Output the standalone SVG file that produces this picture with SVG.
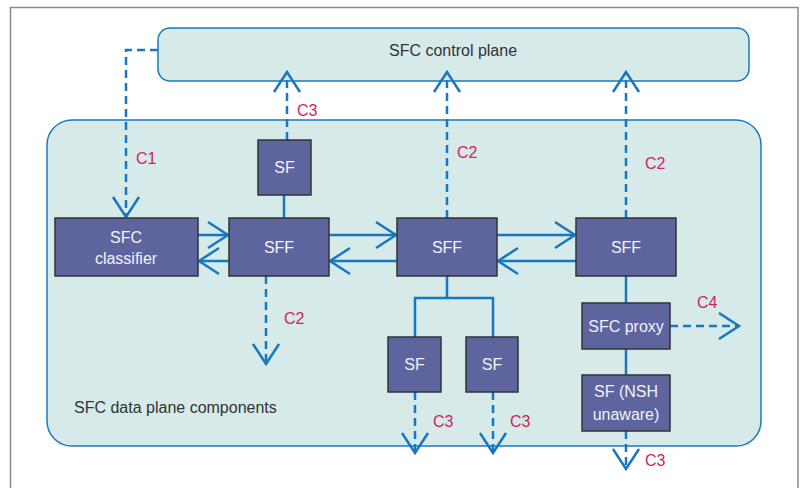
<svg xmlns="http://www.w3.org/2000/svg" width="800" height="488" viewBox="0 0 800 488">
<defs>
<style>
.frame{fill:#fff;stroke:#8a8a8a;stroke-width:1.5}
.cont{fill:#d6eaea;stroke:#1a7abf;stroke-width:1.5}
.node{fill:#5d649e;stroke:#333;stroke-width:1.5}
.ntext{font-family:"Liberation Sans",Arial,sans-serif;font-size:16px;fill:#f2f2f7;text-anchor:middle}
.ctext{font-family:"Liberation Sans",Arial,sans-serif;font-size:16px;fill:#333}
.lbl{font-family:"Liberation Sans",Arial,sans-serif;font-size:16px;fill:#d0245e}
.solid{fill:none;stroke:#1777c0;stroke-width:2.5}
.dash{fill:none;stroke:#1777c0;stroke-width:2.5;stroke-dasharray:8 5}
.arr{marker-end:url(#ah)}
</style>
<marker id="ah" markerUnits="userSpaceOnUse" viewBox="-24 -16 28 32" refX="0" refY="0" markerWidth="28" markerHeight="32" orient="auto">
<path d="M-20,-13 L0,0 L-20,13" fill="none" stroke="#1777c0" stroke-width="2.5"/>
</marker>
</defs>
<rect class="frame" x="10.5" y="7.5" width="787.5" height="495"/>
<g id="control-plane">
<rect class="cont" x="158" y="28" width="591" height="53" rx="12"/>
<text class="ctext" x="453" y="56" text-anchor="middle">SFC control plane</text>
</g>
<g id="data-plane">
<rect class="cont" x="47" y="120" width="714" height="326" rx="25"/>
<text class="ctext" x="74" y="413">SFC data plane components</text>
</g>
<g id="connectors">
<path class="dash arr" d="M158,50 H126 V217"/>
<path class="dash arr" d="M287,140 V72"/>
<path class="dash arr" d="M447,218 V72"/>
<path class="dash arr" d="M626,218 V72"/>
<path class="solid arr" d="M198,235 H228"/>
<path class="solid arr" d="M229,261 H199"/>
<path class="solid arr" d="M329,235 H396"/>
<path class="solid arr" d="M397,261 H330"/>
<path class="solid arr" d="M497,235 H575"/>
<path class="solid arr" d="M576,261 H498"/>
<path class="solid" d="M284,195 V218"/>
<path class="dash arr" d="M266,276 V364"/>
<path class="solid" d="M447,276 V298 M415,337 V298 H493 V337"/>
<path class="dash arr" d="M415,392 V453"/>
<path class="dash arr" d="M493,392 V453"/>
<path class="solid" d="M626,276 V303 M626,349 V375"/>
<path class="dash arr" d="M670,326 H739"/>
<path class="dash arr" d="M626,431 V469"/>
<text class="lbl" x="136" y="164">C1</text>
<text class="lbl" x="297" y="116">C3</text>
<text class="lbl" x="457" y="158">C2</text>
<text class="lbl" x="645" y="169">C2</text>
<text class="lbl" x="284" y="324">C2</text>
<text class="lbl" x="433" y="427">C3</text>
<text class="lbl" x="510" y="427">C3</text>
<text class="lbl" x="697" y="308">C4</text>
<text class="lbl" x="645" y="466">C3</text>
</g>
<g id="sfc-classifier">
<rect class="node" x="55" y="218" width="143" height="58"/>
<text class="ntext" x="126" y="243">SFC</text>
<text class="ntext" x="126" y="264">classifier</text>
</g>
<g id="sff1">
<rect class="node" x="229" y="218" width="100" height="58"/>
<text class="ntext" x="279" y="253">SFF</text>
</g>
<g id="sff2">
<rect class="node" x="397" y="218" width="100" height="58"/>
<text class="ntext" x="447" y="253">SFF</text>
</g>
<g id="sff3">
<rect class="node" x="576" y="218" width="100" height="58"/>
<text class="ntext" x="626" y="253">SFF</text>
</g>
<g id="sf-top">
<rect class="node" x="258" y="140" width="53" height="55"/>
<text class="ntext" x="284.5" y="173">SF</text>
</g>
<g id="sf-bottom1">
<rect class="node" x="388" y="337" width="53" height="55"/>
<text class="ntext" x="414.5" y="370">SF</text>
</g>
<g id="sf-bottom2">
<rect class="node" x="466" y="337" width="52" height="55"/>
<text class="ntext" x="492" y="370">SF</text>
</g>
<g id="sfc-proxy">
<rect class="node" x="582" y="303" width="88" height="46"/>
<text class="ntext" x="626" y="332">SFC proxy</text>
</g>
<g id="sf-nsh-unaware">
<rect class="node" x="582" y="375" width="88" height="56"/>
<text class="ntext" x="626" y="397">SF (NSH</text>
<text class="ntext" x="626" y="420">unaware)</text>
</g>
</svg>
